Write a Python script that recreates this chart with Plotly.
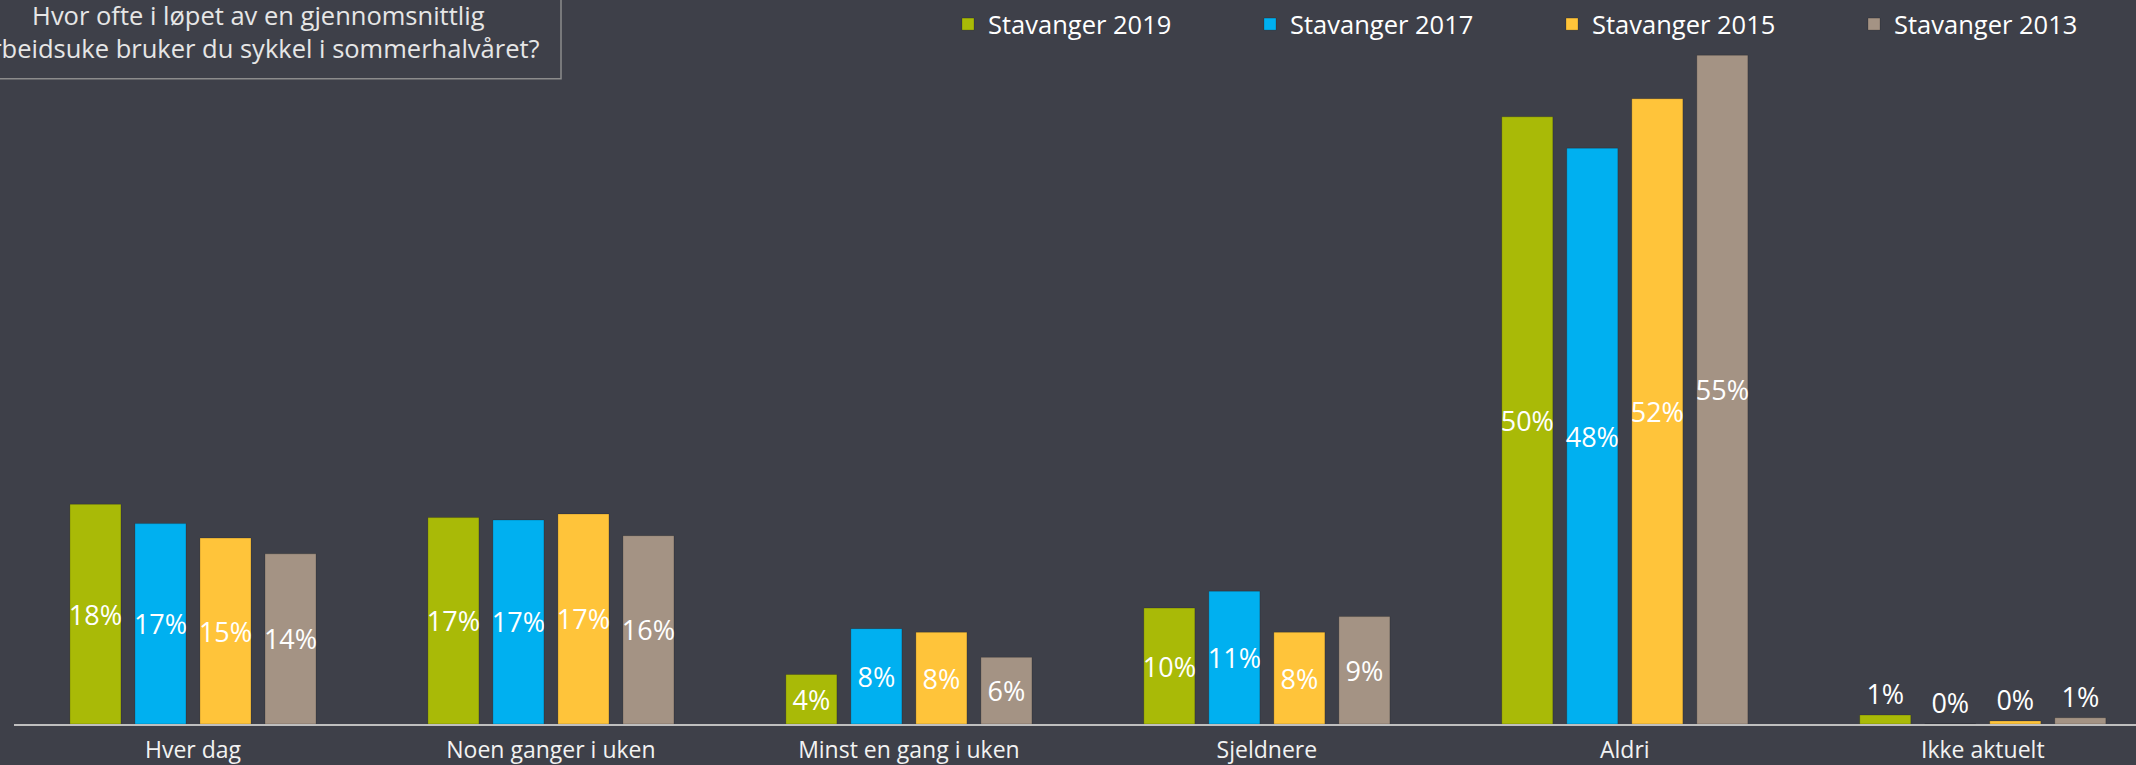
import plotly.graph_objects as go

categories = ["Hver dag", "Noen ganger i uken", "Minst en gang i uken", "Sjeldnere", "Aldri", "Ikke aktuelt"]
series_names = ["Stavanger 2019", "Stavanger 2017", "Stavanger 2015", "Stavanger 2013"]
s2019 = [18.2, 17.1, 4.1, 9.6, 50.3, 0.74]
s2017 = [16.6, 16.9, 7.9, 11.0, 47.7, 0.0]
s2015 = [15.4, 17.4, 7.6, 7.6, 51.8, 0.25]
s2013 = [14.1, 15.6, 5.52, 8.9, 55.4, 0.52]
colors = ["#A9BA07", "#00B0F0", "#FFC43A", "#A49384"]
title_text = "Hvor ofte i løpet av en gjennomsnittlig<br>arbeidsuke bruker du sykkel i sommerhalvåret?"

BG = "#3E4049"
FONT = "Open Sans"
W, H = 2136, 765
ML, MR, MT, MB = 14, 0, 45, 41

fig = go.Figure()
for name, vals, col in zip(series_names, [s2019, s2017, s2015, s2013], colors):
    fig.add_trace(go.Bar(
        x=categories, y=vals, name=name,
        marker=dict(color=col, line=dict(color="rgba(0,0,0,0.18)", width=1)),
        texttemplate="%{y:.0f}%",
        textposition=["inside" if v >= 2 else "outside" for v in vals],
        insidetextanchor="middle",
        textangle=0,
        constraintext="none",
        textfont=dict(family=FONT, size=27, color="#FFFFFF"),
        cliponaxis=False,
    ))

pw = W - ML - MR
ph = H - MT - MB

def px_to_paper_x(px):
    return (px - ML) / pw

def px_to_paper_y(py):
    return (H - MB - py) / ph

fig.add_shape(type="rect", xref="paper", yref="paper",
              x0=px_to_paper_x(-60), x1=px_to_paper_x(561),
              y0=px_to_paper_y(76), y1=px_to_paper_y(-20),
              line=dict(color="#8C8C8C", width=1.5), fillcolor="rgba(0,0,0,0)")
fig.add_annotation(text=title_text, xref="paper", yref="paper",
                   x=px_to_paper_x(258), y=px_to_paper_y(28),
                   xanchor="center", yanchor="middle", align="center",
                   showarrow=False,
                   font=dict(family=FONT, size=25.5, color="#E6E6E6"))

fig.update_layout(
    width=W, height=H,
    margin=dict(l=ML, r=MR, t=MT, b=MB, pad=0),
    paper_bgcolor=BG, plot_bgcolor=BG,
    barmode="group", bargap=0.2735, bargroupgap=0.215,
    showlegend=True,
    legend=dict(orientation="h", xref="container", yref="container",
                x=948 / W, y=1 - 24.5 / H, xanchor="left", yanchor="middle",
                entrywidth=257, entrywidthmode="pixels",
                font=dict(family=FONT, size=25.5, color="#FFFFFF"),
                bgcolor="rgba(0,0,0,0)", traceorder="normal"),
    xaxis=dict(range=[-0.5, 5.428], showline=True, linecolor="#BFBFBF", linewidth=2,
               showgrid=False, zeroline=False, ticks="",
               tickfont=dict(family=FONT, size=23, color="#F2F2F2"),
               ticklabelstandoff=4),
    yaxis=dict(range=[0, 56], visible=False, showgrid=False, zeroline=False),
    font=dict(family=FONT, color="#FFFFFF"),
)

fig.write_html("out.html", config={"displayModeBar": False},
               post_script="document.body.style.margin='0px';document.body.style.padding='0px';document.body.style.overflow='hidden';")
